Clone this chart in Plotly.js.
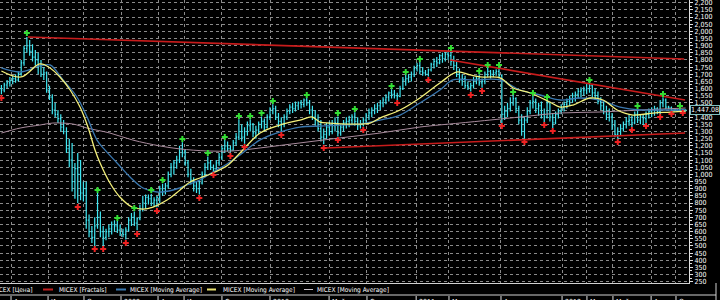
<!DOCTYPE html>
<html><head><meta charset="utf-8">
<script src="https://cdn.plot.ly/plotly-3.0.1.min.js"></script>
<style>html,body{margin:0;padding:0;background:#000;}#c{width:720px;height:300px;}</style>
</head><body><div id="c"></div>
<script>
// Weekly MICEX bars (index 0 = mid-March 2008)
const open = [1600,1590,1625,1640,1655,1670,1660,1705,1780,1880,
1900,1860,1820,1800,1760,1700,1710,1590,1540,1450,
1420,1390,1330,1300,1180,1100,950,1040,1000,870,
900,680,600,560,640,700,600,560,600,620,
650,640,610,590,580,610,680,700,660,690,
760,800,840,830,800,820,840,900,880,920,
1000,1050,1080,1100,1180,1150,1080,1000,960,920,
900,940,1000,1050,1080,1050,1040,1080,1120,1180,
1200,1180,1170,1220,1260,1300,1260,1300,1340,1350,
1290,1310,1350,1370,1330,1400,1450,1460,1400,1370,
1350,1400,1440,1470,1460,1480,1500,1490,1520,1500,
1450,1400,1380,1320,1260,1280,1330,1300,1340,1360,
1290,1330,1360,1370,1380,1400,1370,1340,1350,1380,
1410,1430,1450,1460,1480,1500,1520,1540,1570,1560,
1550,1545,1600,1660,1670,1680,1700,1740,1760,1720,
1710,1700,1730,1770,1790,1780,1830,1810,1840,1830,
1790,1760,1700,1660,1670,1620,1610,1620,1660,1670,
1640,1650,1700,1720,1700,1710,1720,1690,1420,1440,
1460,1500,1530,1460,1380,1300,1380,1440,1500,1510,
1460,1480,1420,1400,1500,1400,1360,1420,1440,1470,
1490,1510,1530,1550,1560,1580,1590,1590,1600,1620,
1570,1550,1510,1480,1440,1420,1400,1340,1280,1300,
1320,1350,1370,1380,1360,1420,1380,1400,1390,1420,
1440,1450,1460,1440,1500,1520,1470,1465,1450,1448,
1452,1450,1452];
const high = [1625,1640,1660,1680,1690,1700,1720,1800,1900,1960,
1940,1910,1870,1850,1800,1750,1720,1620,1560,1500,
1450,1420,1380,1330,1250,1220,1080,1150,1100,950,
950,720,640,700,870,740,640,620,650,670,
680,675,650,620,630,700,730,740,700,790,
850,860,860,865,840,850,920,935,940,1020,
1080,1100,1130,1200,1225,1170,1100,1040,980,950,
960,1020,1080,1125,1100,1070,1100,1150,1200,1240,
1230,1200,1240,1290,1385,1350,1330,1370,1385,1360,
1340,1370,1405,1390,1420,1470,1490,1480,1430,1400,
1420,1460,1490,1500,1510,1510,1520,1530,1535,1520,
1480,1450,1420,1380,1320,1360,1370,1380,1400,1405,
1350,1380,1400,1410,1420,1435,1400,1380,1400,1430,
1460,1470,1490,1500,1520,1540,1560,1580,1595,1590,
1570,1620,1680,1695,1700,1720,1760,1780,1785,1750,
1730,1740,1780,1810,1820,1840,1850,1855,1860,1862,
1830,1790,1740,1700,1690,1650,1640,1680,1690,1700,
1670,1720,1745,1730,1730,1735,1745,1700,1480,1500,
1540,1555,1540,1480,1420,1400,1470,1520,1550,1530,
1500,1510,1460,1520,1505,1430,1440,1460,1490,1510,
1530,1550,1570,1580,1600,1610,1615,1630,1640,1630,
1600,1580,1540,1510,1480,1460,1430,1380,1330,1350,
1370,1400,1420,1410,1440,1455,1420,1420,1440,1460,
1470,1480,1470,1520,1540,1530,1480,1475,1455,1456,
1460,1456,1455];
const low = [1560,1575,1600,1615,1630,1640,1650,1690,1760,1850,
1830,1790,1760,1700,1680,1660,1570,1520,1420,1400,
1360,1300,1280,1150,1050,880,830,800,820,810,
620,560,520,495,620,560,500,540,560,580,
600,590,570,560,545,600,640,640,610,680,
740,760,790,780,775,770,800,850,860,900,
980,1000,1040,1080,1120,1060,980,930,880,870,
860,930,980,1030,1030,1020,1030,1060,1100,1150,
1160,1155,1165,1200,1240,1230,1215,1270,1300,1260,
1250,1280,1320,1300,1320,1380,1420,1380,1330,1300,
1330,1380,1420,1430,1440,1450,1460,1470,1480,1420,
1380,1340,1300,1230,1210,1250,1270,1280,1300,1265,
1270,1300,1320,1330,1350,1340,1310,1320,1335,1360,
1380,1400,1420,1430,1450,1470,1490,1510,1530,1530,
1520,1540,1590,1620,1640,1650,1680,1720,1700,1690,
1690,1685,1720,1740,1750,1770,1780,1790,1800,1760,
1730,1680,1640,1620,1600,1590,1580,1600,1630,1620,
1605,1630,1680,1670,1680,1690,1670,1360,1380,1400,
1440,1480,1430,1350,1270,1250,1360,1420,1460,1430,
1410,1390,1365,1390,1370,1325,1350,1390,1420,1440,
1460,1480,1500,1510,1530,1540,1550,1560,1570,1540,
1520,1490,1450,1420,1380,1370,1310,1260,1250,1270,
1300,1320,1340,1330,1350,1360,1350,1345,1360,1390,
1400,1410,1420,1420,1470,1455,1455,1445,1440,1440,
1445,1448,1440];
const close = [1590,1625,1640,1655,1670,1660,1705,1780,1880,1900,
1860,1820,1800,1760,1700,1710,1590,1540,1450,1420,
1390,1330,1300,1180,1100,950,1040,1000,870,900,
680,600,560,640,700,600,560,600,620,650,
640,610,590,580,610,680,700,660,690,760,
800,840,830,800,820,840,900,880,920,1000,
1050,1080,1100,1180,1150,1080,1000,960,920,900,
940,1000,1050,1080,1050,1040,1080,1120,1180,1200,
1180,1170,1220,1260,1300,1260,1300,1340,1350,1290,
1310,1350,1370,1330,1400,1450,1460,1400,1370,1350,
1400,1440,1470,1460,1480,1500,1490,1520,1500,1450,
1400,1380,1320,1260,1280,1330,1300,1340,1360,1290,
1330,1360,1370,1380,1400,1370,1340,1350,1380,1410,
1430,1450,1460,1480,1500,1520,1540,1570,1560,1550,
1545,1600,1660,1670,1680,1700,1740,1760,1720,1710,
1700,1730,1770,1790,1780,1830,1810,1840,1830,1790,
1760,1700,1660,1670,1620,1610,1620,1660,1670,1640,
1650,1700,1720,1700,1710,1720,1690,1420,1440,1460,
1500,1530,1460,1380,1300,1380,1440,1500,1510,1460,
1480,1420,1400,1500,1400,1360,1420,1440,1470,1490,
1510,1530,1550,1560,1580,1590,1590,1600,1620,1570,
1550,1510,1480,1440,1420,1400,1340,1280,1300,1320,
1350,1370,1380,1360,1420,1380,1400,1390,1420,1440,
1450,1460,1440,1500,1520,1470,1465,1450,1448,1452,
1450,1452,1447.08];

// Fractals (bar index, level of the marker)
const upIdx = [9,34,41,47,53,57,64,73,79,84,88,92,96,108,119,125,138,143,148,159,169,172,176,181,188,193,208,225,234,240];
const upVal = [1988,891,695,765,891,961,1248,1150,1262,1408,1408,1429,1513,1555,1429,1457,1618,1716,1807,1884,1723,1765,1765,1576,1569,1541,1660,1478,1562,1478];
const dnIdx = [0,27,33,36,44,48,55,70,75,81,86,99,114,119,128,140,151,166,170,177,185,192,195,218,223,228,233,237,241];
const dnVal = [1534,772,479,479,521,584,744,835,996,1129,1192,1275,1185,1241,1310,1499,1660,1555,1583,1338,1227,1345,1303,1227,1310,1338,1401,1422,1429];

// Moving averages
const maFastIdx = [0,7,13.6,17.2,20.7,24.3,27.8,30.6,33.1,34.9,38.4,41.9,46.2,50.1,53.6,58.6,63.2,66.7,70.2,74.8,79.8,84.4,91.5,98.5,105.6,109.9,112.7,116.2,123.3,130.4,133.9,141,148,155.1,161.2,165.8,169.3,176.4,181,187,194,197.6,202.2,208.2,212.8,217.8,223.4,230.5,236.5,242];
const maFastVal = [1723,1681,1772,1744,1681,1590,1471,1331,1171,1080,940,842,772,758,772,821,891,947,975,1010,1060,1150,1289,1345,1380,1401,1366,1359,1352,1359,1394,1450,1534,1639,1716,1695,1681,1674,1604,1569,1506,1471,1485,1534,1520,1450,1415,1429,1436,1443];
const maMidIdx = [0,6.6,13.6,17.2,21.8,26.7,30.3,33.8,36.6,40.9,45.5,50.1,55.0,60.7,65.6,70.2,74.8,79.8,84.4,91.5,98.5,105.6,112.7,119.8,126.9,133.9,141,148,155.1,159.7,166.8,176.4,183.4,190.5,197.6,204.7,211.7,218.8,225.9,233,242];
const maMidVal = [1744,1716,1758,1765,1660,1541,1401,1240,1171,1080,982,905,877,891,926,961,1017,1073,1136,1241,1296,1331,1338,1345,1352,1380,1415,1499,1590,1660,1660,1660,1590,1555,1520,1534,1520,1471,1450,1450,1450];
const maSlowIdx = [0,6.6,13.6,18.2,25.3,30.3,38.4,46.5,56.1,63.2,72.7,81.9,91.5,105.6,119.8,133.9,148,162.2,169.3,183.4,197.6,211.7,225.9,242];
const maSlowVal = [1289,1324,1345,1359,1352,1324,1289,1240,1199,1178,1164,1164,1185,1220,1255,1289,1331,1359,1373,1401,1429,1436,1450,1464];

// Trend lines
const trendTopIdx = [9.4,241.5], trendTopVal = [1960,1807];
const trendMidIdx = [158.7,241.8], trendMidVal = [1800,1520];
const trendLowIdx = [114.5,241.8], trendLowVal = [1185,1289];

// Axis labels
const gridIdx = [3.4,16.5,29.2,42.3,55.4,64.6,78.0,95.0,115.9,129.3,146.7,158.3,176.7,198.3,207.1,216.3,229.8,238.6];
const gridText = ['Апр','Июл','Окт','2009','Апр','Июн','Сен','2010','Май','Сен','2011','Мар','Авг','2012','Мар','Май','Авг','Окт'];
const legendNames = ['MICEX [Цена]','MICEX [Fractals]','MICEX [Moving Average]','MICEX [Moving Average]','MICEX [Moving Average]'];
const lastValue = 1447.08;

const idx = close.map((_, i) => i);
const W = 689, H = 283;
const px = v => v / W, py = v => (H - v) / H;
const font = 'Liberation Sans Narrow, DejaVu Sans Condensed, Arial, sans-serif';

const traces = [
  {type:'scatter', mode:'lines', x:maSlowIdx, y:maSlowVal, line:{color:'#a88a9c', width:1, shape:'spline'}, hoverinfo:'skip'},
  {type:'ohlc', x:idx, open:open, high:high, low:low, close:close, tickwidth:0.35,
   increasing:{line:{color:'#3fe6f2', width:1.2}}, decreasing:{line:{color:'#3fe6f2', width:1.2}}, hoverinfo:'skip'},
  {type:'scatter', mode:'lines', x:maMidIdx, y:maMidVal, line:{color:'#3a78b0', width:1.3, shape:'spline'}, hoverinfo:'skip'},
  {type:'scatter', mode:'lines', x:maFastIdx, y:maFastVal, line:{color:'#f4f07a', width:1.3, shape:'spline'}, hoverinfo:'skip'},
  {type:'scatter', mode:'lines', x:trendTopIdx, y:trendTopVal, line:{color:'#c81c1c', width:1.6}, hoverinfo:'skip'},
  {type:'scatter', mode:'lines', x:trendMidIdx, y:trendMidVal, line:{color:'#c81c1c', width:1.6}, hoverinfo:'skip'},
  {type:'scatter', mode:'lines', x:trendLowIdx, y:trendLowVal, line:{color:'#c81c1c', width:1.6}, hoverinfo:'skip'},
  {type:'scatter', mode:'markers', x:upIdx, y:upVal, marker:{symbol:'cross', size:5, color:'#33dd33', line:{width:0}}, hoverinfo:'skip'},
  {type:'scatter', mode:'markers', x:dnIdx, y:dnVal, marker:{symbol:'cross', size:5, color:'#ee2222', line:{width:0}}, hoverinfo:'skip'}
];

const shapes = [
  {type:'line', xref:'paper', yref:'paper', x0:0, x1:px(716), y0:py(295), y1:py(295), line:{color:'#d0d0d0', width:1}},
  {type:'line', xref:'paper', yref:'paper', x0:px(716), x1:px(716), y0:py(283), y1:py(300), line:{color:'#d0d0d0', width:1}},
  {type:'line', xref:'paper', yref:'paper', x0:px(43), x1:px(53), y0:py(289.5), y1:py(289.5), line:{color:'#c02020', width:2}},
  {type:'line', xref:'paper', yref:'paper', x0:px(116), x1:px(126), y0:py(289.5), y1:py(289.5), line:{color:'#3a78b0', width:2}},
  {type:'line', xref:'paper', yref:'paper', x0:px(207), x1:px(216), y0:py(289.5), y1:py(289.5), line:{color:'#e8e070', width:2}},
  {type:'line', xref:'paper', yref:'paper', x0:px(304), x1:px(313), y0:py(289.5), y1:py(289.5), line:{color:'#c8c0c8', width:1}}
];
gridIdx.forEach(g => shapes.push({type:'line', xref:'x', yref:'paper', x0:g, x1:g, y0:py(296), y1:py(301), line:{color:'#e0e0e0', width:1}}));

const legendX = [-10, 57, 128, 221, 315];
const annotations = legendNames.map((t, k) => ({
  xref:'paper', yref:'paper', x:px(legendX[k]), y:py(289.5), xanchor:'left', yanchor:'middle',
  text:t, showarrow:false, font:{family:font, size:6.5, color:'#ffffff'}
}));
gridIdx.forEach((g, k) => annotations.push({
  xref:'x', yref:'paper', x:g, y:py(296), xanchor:'left', yanchor:'top', xshift:1,
  text:gridText[k], showarrow:false, font:{family:font, size:7, color:'#ffffff'}
}));
annotations.push({xref:'paper', yref:'y', x:1, y:lastValue, xanchor:'left', yanchor:'middle', xshift:1,
  text:lastValue.toLocaleString('en-US',{minimumFractionDigits:2}), showarrow:false,
  font:{family:font, size:7, color:'#ffffff'}, bgcolor:'#000000', bordercolor:'#7fc0c0', borderwidth:1, borderpad:0});

const layout = {
  width:720, height:300, margin:{l:0, r:31, t:0, b:17},
  paper_bgcolor:'#000000', plot_bgcolor:'#000000', showlegend:false,
  xaxis:{range:[-0.5,243.2], tickmode:'array', tickvals:gridIdx, showticklabels:false, ticks:'',
    showgrid:true, gridcolor:'#8a8a8a', griddash:'dot', gridwidth:1, zeroline:false,
    showline:true, linecolor:'#d0d0d0', linewidth:1, rangeslider:{visible:false}, fixedrange:true},
  yaxis:{side:'right', range:[241,2219], tick0:0, dtick:50, tickformat:',d', ticks:'outside', ticklen:3,
    ticklabeloverflow:'allow',
    tickcolor:'#e0e0e0', showline:true, linecolor:'#e0e0e0', linewidth:1,
    minor:{ticks:'outside', ticklen:2, dtick:25, tickcolor:'#e0e0e0', showgrid:false},
    showgrid:true, gridcolor:'#8a8a8a', griddash:'dot', gridwidth:1, zeroline:false,
    tickfont:{family:font, size:7, color:'#ffffff'}, fixedrange:true},
  shapes:shapes, annotations:annotations
};
Plotly.newPlot('c', traces, layout, {staticPlot:true, displayModeBar:false});
</script></body></html>
